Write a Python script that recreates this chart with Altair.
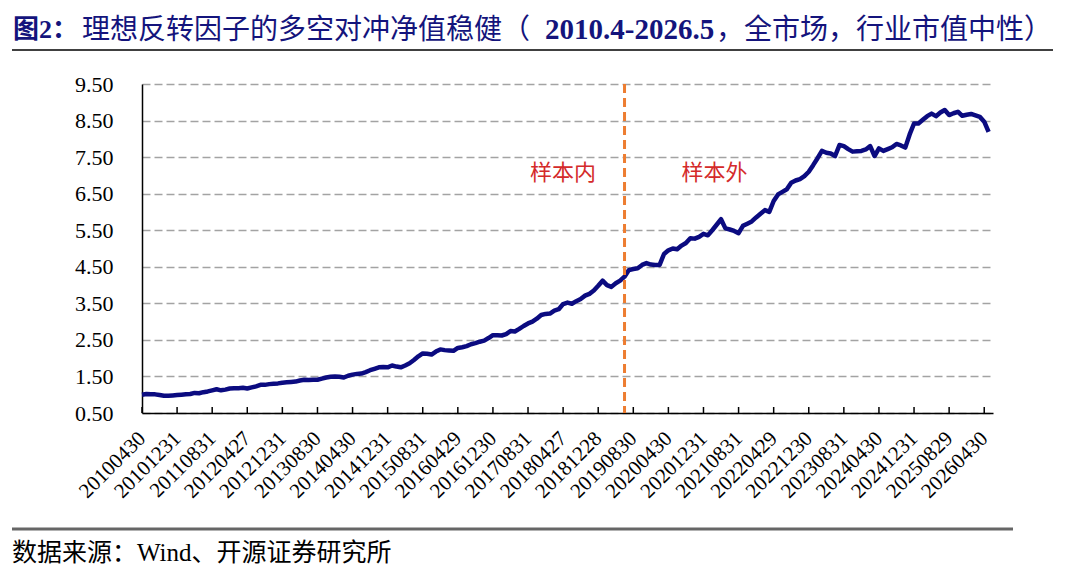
import altair as alt
import pandas as pd

# long-short NAV, month ends from 2010-04 to 2026-05
nav_2010 = [1.00, 1.02, 1.01, 1.01, 0.99, 0.97, 0.97, 0.98, 0.99]
nav_2011 = [1.00, 1.01, 1.02, 1.05, 1.04, 1.07, 1.09, 1.12, 1.15, 1.12, 1.14, 1.17]
nav_2012 = [1.18, 1.18, 1.19, 1.17, 1.20, 1.23, 1.27, 1.27, 1.29, 1.30, 1.31, 1.33]
nav_2013 = [1.34, 1.35, 1.36, 1.39, 1.41, 1.40, 1.41, 1.41, 1.44, 1.47, 1.49, 1.50]
nav_2014 = [1.49, 1.47, 1.52, 1.55, 1.57, 1.58, 1.62, 1.67, 1.71, 1.75, 1.76, 1.75]
nav_2015 = [1.80, 1.77, 1.75, 1.80, 1.86, 1.95, 2.05, 2.13, 2.12, 2.10, 2.18, 2.24]
nav_2016 = [2.22, 2.21, 2.20, 2.28, 2.30, 2.33, 2.38, 2.41, 2.45, 2.48, 2.55, 2.63]
nav_2017 = [2.63, 2.62, 2.66, 2.74, 2.73, 2.80, 2.88, 2.95, 3.00, 3.08, 3.18, 3.21]
nav_2018 = [3.22, 3.30, 3.34, 3.48, 3.52, 3.49, 3.56, 3.62, 3.71, 3.76, 3.85, 3.98]
nav_2019 = [4.12, 4.00, 3.95, 4.05, 4.12, 4.23, 4.41, 4.44, 4.46, 4.55, 4.60, 4.56]
nav_2020 = [4.55, 4.55, 4.85, 4.95, 5.00, 4.98, 5.08, 5.15, 5.28, 5.27, 5.32, 5.40]
nav_2021 = [5.36, 5.50, 5.65, 5.80, 5.55, 5.52, 5.48, 5.42, 5.62, 5.68, 5.74, 5.85]
nav_2022 = [5.95, 6.05, 6.00, 6.30, 6.48, 6.55, 6.62, 6.80, 6.86, 6.90, 6.98, 7.10]
nav_2023 = [7.28, 7.47, 7.67, 7.62, 7.60, 7.53, 7.83, 7.80, 7.72, 7.65, 7.66, 7.67]
nav_2024 = [7.71, 7.80, 7.53, 7.74, 7.67, 7.72, 7.77, 7.86, 7.82, 7.76, 8.12, 8.42]
nav_2025 = [8.42, 8.52, 8.62, 8.69, 8.62, 8.72, 8.79, 8.65, 8.70, 8.74, 8.63, 8.66]
nav_2026 = [8.68, 8.64, 8.60, 8.47, 8.19]

tick_labels = ["20100430", "20101231", "20110831", "20120427", "20121231",
               "20130830", "20140430", "20141231", "20150831", "20160429",
               "20161230", "20170831", "20180427", "20181228", "20190830",
               "20200430", "20201231", "20210831", "20220429", "20221230",
               "20230831", "20240430", "20241231", "20250829", "20260430"]
y_ticks = [0.5, 1.5, 2.5, 3.5, 4.5, 5.5, 6.5, 7.5, 8.5, 9.5]
split_month = "201906"   # in-sample / out-of-sample boundary
sample_labels = ["样本内", "样本外"]

nav = (nav_2010 + nav_2011 + nav_2012 + nav_2013 + nav_2014 + nav_2015 + nav_2016
       + nav_2017 + nav_2018 + nav_2019 + nav_2020 + nav_2021 + nav_2022
       + nav_2023 + nav_2024 + nav_2025 + nav_2026)


def month_idx(s):
    return (int(s[:4]) - 2010) * 12 + int(s[4:6]) - 4


df = pd.DataFrame({"m": range(len(nav)), "nav": nav})
tick_m = [month_idx(s) for s in tick_labels]
split_m = month_idx(split_month)

W, H = 851, 329
serif = "Liberation Serif"
cjk = "Noto Sans CJK SC"
mixed = serif + ", " + cjk
navy = "#14147c"

label_expr = "[" + ",".join("'%s'" % s for s in tick_labels) + "][indexof([" + \
    ",".join(str(m) for m in tick_m) + "], datum.value)]"

xs = alt.Scale(domain=[0, 194], nice=False, zero=False)
ys = alt.Scale(domain=[0.5, 9.5], nice=False, zero=False)

# same axis objects in every layer so the merged axes keep these settings
x_axis = alt.Axis(values=tick_m, labelExpr=label_expr, labelAngle=-45,
                  labelAlign="right", labelBaseline="middle",
                  labelFont=serif, labelFontSize=21, labelColor="black",
                  labelPadding=22, labelOverlap=False, labelFlush=False,
                  ticks=False, grid=False, domainColor="black",
                  domainWidth=1.5, title=None)
y_axis = alt.Axis(values=y_ticks, format=".2f", labelFont=serif,
                  labelFontSize=22, labelColor="black", labelPadding=29,
                  labelFlush=False, labelOverlap=False, ticks=False,
                  grid=True, gridColor="#a3a3a3", gridDash=[8, 4],
                  gridWidth=1.5, domainColor="black", domainWidth=1.5,
                  title=None)

line = alt.Chart(df).mark_line(color="#0b0b80", strokeWidth=4.5, strokeJoin="round").encode(
    x=alt.X("m:Q", scale=xs, axis=x_axis),
    y=alt.Y("nav:Q", scale=ys, axis=y_axis),
)

# inward tick marks on the x axis
ticks = alt.Chart(pd.DataFrame({"m": tick_m})).mark_rule(color="black", strokeWidth=1.5).encode(
    x=alt.X("m:Q", scale=xs, axis=x_axis), y=alt.value(H - 6), y2=alt.value(H)
)

split = alt.Chart(pd.DataFrame({"m": [split_m]})).mark_rule(
    color="#ED7D31", strokeWidth=3, strokeDash=[9, 5]
).encode(x=alt.X("m:Q", scale=xs, axis=x_axis))

lab_df = pd.DataFrame({"m": [96, 130.5], "nav": [7.07, 7.07], "label": sample_labels})
labels = alt.Chart(lab_df).mark_text(font=mixed, fontSize=22, color="#d42a2a").encode(
    x=alt.X("m:Q", scale=xs, axis=x_axis),
    y=alt.Y("nav:Q", scale=ys, axis=y_axis),
    text="label:N",
)

one = pd.DataFrame({"a": [0]})


def txt(s, x, y, font, size, weight="normal", color=navy):
    return alt.Chart(one).mark_text(
        font=font, fontSize=size, fontWeight=weight, color=color,
        align="left", baseline="middle"
    ).encode(x=alt.value(x), y=alt.value(y), text=alt.value(s))


title = [
    txt("图2：", -129, -54.5, mixed, 26, "bold"),
    txt("理想反转因子的多空对冲净值稳健（", -60, -53, mixed, 28),
    txt("2010.4-2026.5", 403, -54, serif, 29, "bold"),
    txt("，全市场，行业市值中性）", 574, -53, mixed, 28),
]
source = txt("数据来源：Wind、开源证券研究所", -130, 469, mixed, 25, color="black")

top_rule = alt.Chart(one).mark_rule(color="black", strokeWidth=1.5).encode(
    x=alt.value(-130), x2=alt.value(911), y=alt.value(-34)
)
bottom_rule = alt.Chart(one).mark_rule(color="#666666", strokeWidth=3).encode(
    x=alt.value(-130), x2=alt.value(871), y=alt.value(445)
)

chart = alt.layer(
    line, ticks, split, labels, *title, source, top_rule, bottom_rule
).properties(
    width=W, height=H,
    autosize=alt.AutoSizeParams(type="none"),
    padding={"left": 134, "top": 76, "right": 79, "bottom": 152},
).configure_view(stroke=None).configure_axis(labelOverlap=False)

chart.save("out.html", embed_options={"renderer": "svg", "actions": False})
